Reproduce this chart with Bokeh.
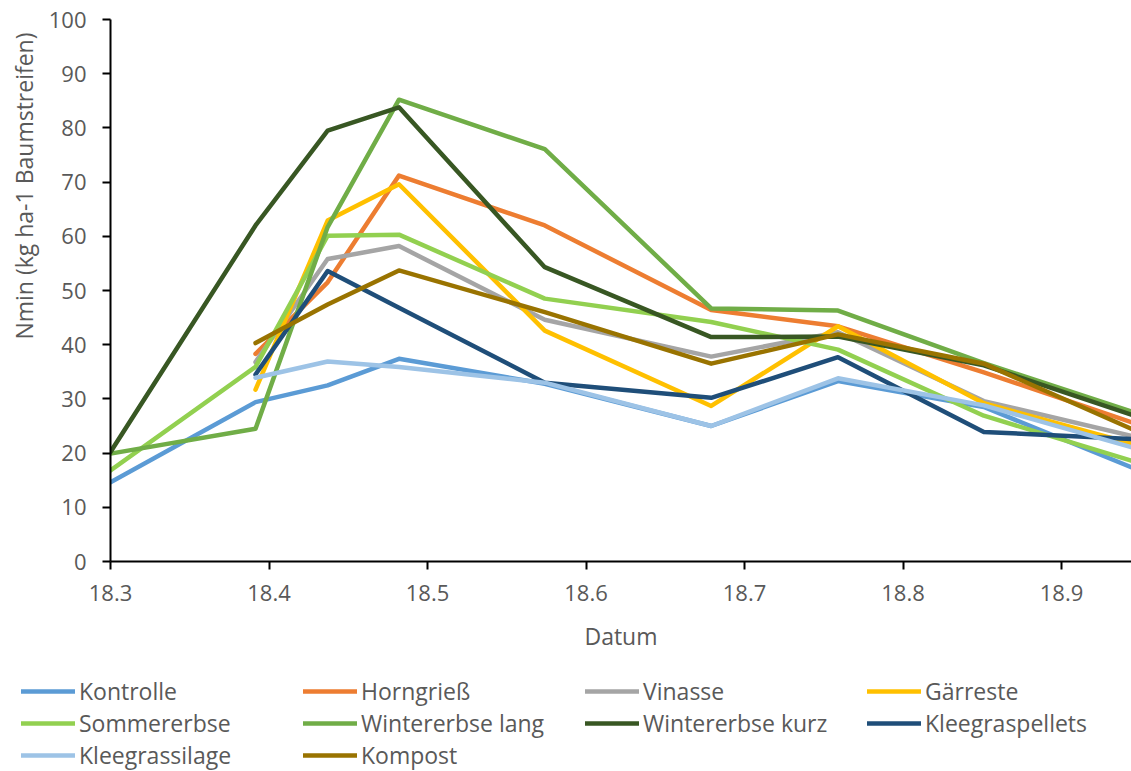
import numpy as np
from bokeh.plotting import figure
from bokeh.layouts import column
from bokeh.models import Legend, LegendItem, FixedTicker, PrintfTickFormatter, Range1d, Title
from bokeh.embed import file_html
from bokeh.resources import INLINE

# x positions (Datum)
datum = [18.300, 18.3915, 18.437, 18.482, 18.574, 18.679, 18.759, 18.851, 18.944]

nan = float("nan")
kontrolle        = [14.6, 29.4, 32.5, 37.4, 32.8, 25.0, 33.3, 28.5, 17.4]
horngriess       = [nan, 38.3, 51.5, 71.2, 62.0, 46.4, 43.4, 34.9, 25.7]
vinasse          = [nan, 36.8, 55.8, 58.2, 44.6, 37.8, 42.3, 29.6, 23.2]
gaerreste        = [nan, 31.7, 62.9, 69.6, 42.6, 28.7, 43.4, 29.2, 21.8]
sommererbse      = [16.8, 35.9, 60.1, 60.3, 48.5, 44.2, 39.1, 26.9, 18.6]
wintererbse_lang = [19.9, 24.5, 61.7, 85.2, 76.1, 46.7, 46.3, 36.6, 27.7]
wintererbse_kurz = [20.2, 62.0, 79.5, 83.8, 54.3, 41.4, 41.5, 36.2, 27.1]
kleegraspellets  = [nan, 34.5, 53.6, 46.8, 33.0, 30.2, 37.7, 23.9, 22.6]
kleegrassilage   = [nan, 33.9, 36.9, 35.9, 33.0, 25.0, 33.8, 28.8, 21.1]
kompost          = [nan, 40.3, 47.4, 53.7, 46.0, 36.5, 41.9, 36.5, 24.5]

series_names = ["Kontrolle", "Horngrieß", "Vinasse", "Gärreste", "Sommererbse",
                "Wintererbse lang", "Wintererbse kurz", "Kleegraspellets",
                "Kleegrassilage", "Kompost"]
series_values = [kontrolle, horngriess, vinasse, gaerreste, sommererbse,
                 wintererbse_lang, wintererbse_kurz, kleegraspellets,
                 kleegrassilage, kompost]
series_colors = ["#5B9BD5", "#ED7D31", "#A5A5A5", "#FFC000", "#92D050",
                 "#70AD47", "#385723", "#1F4E79", "#9DC3E6", "#997300"]

x_ticks = [18.3, 18.4, 18.5, 18.6, 18.7, 18.8, 18.9]
y_ticks = [0, 10, 20, 30, 40, 50, 60, 70, 80, 90, 100]

FONT = "Open Sans"
TXT = "#595959"

p = figure(width=1131, height=665,
           min_border_left=110, min_border_right=0,
           min_border_top=19, min_border_bottom=104,
           x_range=Range1d(18.3, 18.3 + 1021 / 1585.0),
           y_range=Range1d(0, 100),
           output_backend="svg", toolbar_location=None)
p.frame_align = False

p.outline_line_color = None
p.xgrid.grid_line_color = None
p.ygrid.grid_line_color = None

for name, vals, col in zip(series_names, series_values, series_colors):
    p.line(datum, vals, line_color=col, line_width=4.5,
           line_join="round", line_cap="round")

for ax in (p.xaxis[0], p.yaxis[0]):
    ax.axis_line_color = "black"
    ax.axis_line_width = 2
    ax.major_tick_line_color = "black"
    ax.major_tick_line_width = 2
    ax.major_tick_out = 8
    ax.major_tick_in = 0
    ax.minor_tick_line_color = None
    ax.major_label_text_font = FONT
    ax.major_label_text_font_size = "22px"
    ax.major_label_text_color = TXT
    ax.axis_label_text_font = FONT
    ax.axis_label_text_font_size = "23px"
    ax.axis_label_text_color = TXT
    ax.axis_label_text_font_style = "normal"

p.xaxis.ticker = FixedTicker(ticks=x_ticks)
p.xaxis.formatter = PrintfTickFormatter(format="%.1f")
p.xaxis.axis_label = "Datum"
p.xaxis.major_label_standoff = 15
p.xaxis.axis_label_standoff = 16

p.yaxis.ticker = FixedTicker(ticks=y_ticks)
p.yaxis.major_label_standoff = 16

ytitle = Title(text="Nmin (kg ha-1 Baumstreifen)", align="right", offset=13,
               text_font=FONT, text_font_size="23px", text_color=TXT,
               text_font_style="normal", standoff=11)
p.add_layout(ytitle, "left")

# legend figure (no axes; lines lie outside its visible range)
lg = figure(width=1131, height=106, min_border=0,
            x_axis_location=None, y_axis_location=None,
            x_range=Range1d(0, 1), y_range=Range1d(0, 1),
            output_backend="svg", toolbar_location=None)
lg.frame_align = False
lg.grid.visible = False
lg.outline_line_color = None
items = []
for name, vals, col in zip(series_names, series_values, series_colors):
    r = lg.line(datum, vals, line_color=col, line_width=4.5, line_cap="round")
    items.append(LegendItem(label=name, renderers=[r]))

legend = Legend(items=items, location=(21, 0), orientation="horizontal",
                ncols=4, glyph_width=54, glyph_height=20, label_height=20,
                label_width=224, label_standoff=4, spacing=0,
                padding=0, margin=0, border_line_color=None,
                background_fill_alpha=0,
                label_text_font=FONT, label_text_font_size="23px",
                label_text_color=TXT)
lg.add_layout(legend, "center")

layout = column(p, lg, spacing=0)
open("out.html", "w").write(file_html(layout, INLINE))
